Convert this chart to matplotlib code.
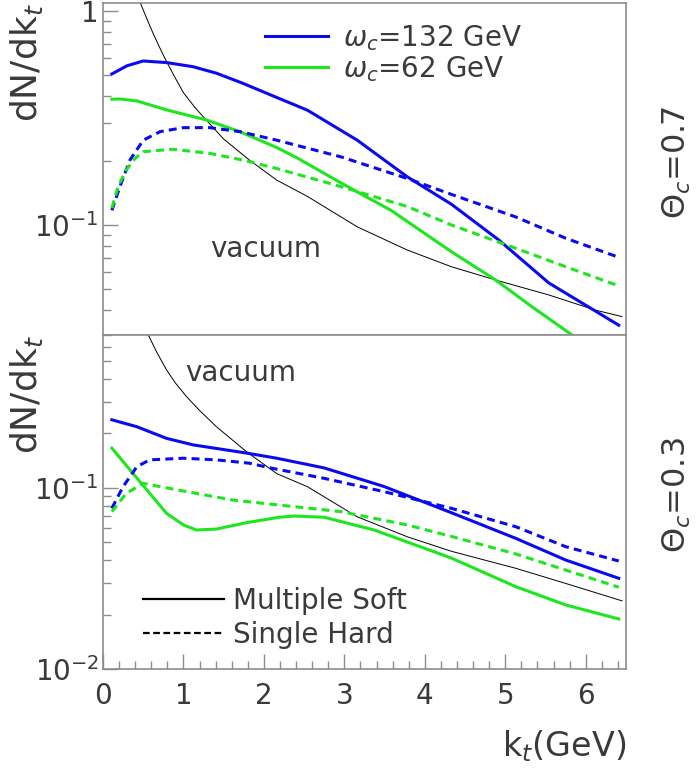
import matplotlib
matplotlib.use("Agg")
import matplotlib.pyplot as plt
import numpy as np
from matplotlib.lines import Line2D
from matplotlib.ticker import FixedLocator, FixedFormatter, NullFormatter, MultipleLocator

# ---- data: theta_c = 0.7 (top panel) ----
top_ms132_x = [0.11, 0.30, 0.50, 0.79, 1.12, 1.41, 1.74, 2.19, 2.54, 3.16, 3.78, 4.33, 4.92, 5.54, 6.10, 6.41]
top_ms132_y = [0.508, 0.555, 0.584, 0.574, 0.549, 0.512, 0.459, 0.390, 0.344, 0.249, 0.168, 0.125, 0.085, 0.0536, 0.040, 0.034]

top_sh132_x = [0.11, 0.21, 0.335, 0.50, 0.71, 1.0, 1.33, 1.70, 2.16, 2.96, 3.78, 4.33, 5.13, 5.75, 6.41]
top_sh132_y = [0.117, 0.151, 0.201, 0.249, 0.273, 0.285, 0.285, 0.273, 0.249, 0.208, 0.165, 0.139, 0.109, 0.0867, 0.0706]

top_ms62_x = [0.11, 0.21, 0.42, 0.79, 1.28, 1.70, 2.16, 2.42, 2.96, 3.58, 4.33, 4.88, 5.33, 5.83, 6.0]
top_ms62_y = [0.387, 0.388, 0.380, 0.345, 0.310, 0.273, 0.230, 0.205, 0.157, 0.117, 0.075, 0.0553, 0.0415, 0.0306, 0.027]

top_sh62_x = [0.11, 0.19, 0.29, 0.40, 0.50, 0.87, 1.33, 1.74, 2.15, 2.96, 3.78, 4.33, 5.13, 5.75, 6.41]
top_sh62_y = [0.120, 0.152, 0.181, 0.205, 0.220, 0.226, 0.216, 0.201, 0.184, 0.151, 0.122, 0.100, 0.0778, 0.0638, 0.0519]

top_vac_x = [0.40, 0.46, 0.54, 0.62, 0.70, 0.79, 0.90, 1.0, 1.14, 1.28, 1.50, 1.82, 2.16, 2.54, 3.16, 3.78, 4.33, 4.88, 5.54, 6.12, 6.45]
top_vac_y = [1.35, 1.10, 0.93, 0.79, 0.68, 0.58, 0.485, 0.415, 0.355, 0.31, 0.252, 0.201, 0.162, 0.136, 0.098, 0.0764, 0.0638, 0.0553, 0.0471, 0.040, 0.0373]

# ---- theta_c = 0.3 (bottom panel) ----
bot_ms132_x = [0.11, 0.42, 0.79, 1.12, 1.78, 2.16, 2.75, 3.49, 4.33, 5.13, 5.75, 6.41]
bot_ms132_y = [0.238, 0.218, 0.188, 0.173, 0.156, 0.146, 0.129, 0.102, 0.073, 0.0527, 0.040, 0.0317]

bot_sh132_x = [0.11, 0.25, 0.42, 0.58, 1.0, 1.41, 1.82, 2.12, 2.75, 3.49, 4.33, 5.13, 5.75, 6.41]
bot_sh132_y = [0.0772, 0.1017, 0.131, 0.143, 0.146, 0.143, 0.137, 0.128, 0.113, 0.0955, 0.0772, 0.0611, 0.0474, 0.0395]

bot_ms62_x = [0.11, 0.335, 0.58, 0.79, 1.0, 1.16, 1.41, 1.78, 2.19, 2.38, 2.75, 3.37, 4.33, 5.13, 5.75, 6.41]
bot_ms62_y = [0.166, 0.126, 0.0935, 0.0724, 0.0625, 0.0586, 0.0593, 0.0643, 0.0689, 0.070, 0.0689, 0.0586, 0.041, 0.0285, 0.0226, 0.0189]

bot_sh62_x = [0.11, 0.29, 0.50, 1.0, 1.61, 2.19, 2.96, 3.78, 4.33, 5.13, 5.75, 6.41]
bot_sh62_y = [0.074, 0.0935, 0.106, 0.0962, 0.0858, 0.0805, 0.074, 0.0625, 0.054, 0.0432, 0.0352, 0.0283]

bot_vac_x = [0.50, 0.57, 0.67, 0.79, 0.90, 1.04, 1.20, 1.41, 1.78, 2.16, 2.54, 3.16, 3.78, 4.33, 5.13, 5.75, 6.45]
bot_vac_y = [0.80, 0.69, 0.56, 0.449, 0.38, 0.319, 0.268, 0.218, 0.159, 0.120, 0.1017, 0.0693, 0.0538, 0.0447, 0.036, 0.0297, 0.0238]

xticks = [0, 1, 2, 3, 4, 5, 6]
top_yticks = [0.1, 1.0]
top_ylabels = [r'$10^{-1}$', '1']
bot_yticks = [0.01, 0.1]
bot_ylabels = [r'$10^{-2}$', r'$10^{-1}$']
legend_w = [r'$\omega_c$=132 GeV', r'$\omega_c$=62 GeV']
legend_s = ['Multiple Soft', 'Single Hard']

BLUE = '#0a0aee'
GREEN = '#1ee61e'
TXT = '#3a3a3a'
FRAME = '#8c8c8c'
FS = 20
LW = 2.2
DASH = (2.6, 1.7)

plt.rcParams['font.family'] = ['DejaVu Sans']
plt.rcParams['mathtext.fontset'] = 'dejavusans'

fig = plt.figure(figsize=(6.98, 7.71), dpi=100)
ax1 = fig.add_axes([103/698, 1-335/771, 523/698, 332/771])
ax2 = fig.add_axes([103/698, 1-669/771, 523/698, 334/771])


def style(ax, yticks, ylabels, ylim, show_x):
    ax.set_yscale('log')
    ax.set_xlim(0, 6.5)
    ax.set_ylim(*ylim)
    for s in ax.spines.values():
        s.set_color(FRAME)
        s.set_linewidth(1.2)
    ax.yaxis.set_major_locator(FixedLocator(yticks))
    ax.yaxis.set_major_formatter(FixedFormatter(ylabels))
    ax.yaxis.set_minor_formatter(NullFormatter())
    ax.tick_params(axis='y', which='major', direction='in', length=11, width=1,
                   color=FRAME, labelsize=FS, labelcolor=TXT, pad=3, right=False)
    ax.tick_params(axis='y', which='minor', direction='in', length=5.5, width=1,
                   color=FRAME, right=False)
    if show_x:
        ax.xaxis.set_major_locator(FixedLocator(xticks))
        ax.xaxis.set_minor_locator(MultipleLocator(0.2))
        ax.tick_params(axis='x', which='major', direction='in', length=11, width=1,
                       color=FRAME, labelsize=FS, labelcolor=TXT, pad=9, top=False)
        ax.tick_params(axis='x', which='minor', direction='in', length=6, width=1,
                       color=FRAME, top=False)
    else:
        ax.tick_params(axis='x', which='both', bottom=False, top=False, labelbottom=False)


style(ax1, top_yticks, top_ylabels, (0.0306, 1.09), False)
style(ax2, bot_yticks, bot_ylabels, (0.01, 0.70), True)

# top panel
ax1.plot(top_vac_x, top_vac_y, color='black', lw=0.7)
ax1.plot(top_ms132_x, top_ms132_y, color=BLUE, lw=LW)
ax1.plot(top_ms62_x, top_ms62_y, color=GREEN, lw=LW)
ax1.plot(top_sh132_x, top_sh132_y, color=BLUE, lw=LW, ls=(0, DASH))
ax1.plot(top_sh62_x, top_sh62_y, color=GREEN, lw=LW, ls=(0, DASH))

# bottom panel
ax2.plot(bot_vac_x, bot_vac_y, color='black', lw=0.7)
ax2.plot(bot_ms132_x, bot_ms132_y, color=BLUE, lw=LW)
ax2.plot(bot_ms62_x, bot_ms62_y, color=GREEN, lw=LW)
ax2.plot(bot_sh132_x, bot_sh132_y, color=BLUE, lw=LW, ls=(0, DASH))
ax2.plot(bot_sh62_x, bot_sh62_y, color=GREEN, lw=LW, ls=(0, DASH))

# legends
h1 = [Line2D([], [], color=BLUE, lw=LW), Line2D([], [], color=GREEN, lw=LW)]
leg1 = ax1.legend(h1, legend_w, loc='upper left', bbox_to_anchor=(0.31, 0.94),
                  frameon=False, fontsize=FS, handlelength=2.25, handletextpad=0.55,
                  labelspacing=0.05, borderpad=0, borderaxespad=0)
for t in leg1.get_texts():
    t.set_color(TXT)

h2 = [Line2D([], [], color='black', lw=1.6), Line2D([], [], color='black', lw=1.6, ls=(0, (3, 1.6)))]
leg2 = ax2.legend(h2, legend_s, loc='upper left', bbox_to_anchor=(0.0765, 0.245),
                  frameon=False, fontsize=FS, handlelength=2.9, handletextpad=0.35,
                  labelspacing=0.2, borderpad=0, borderaxespad=0)
for t in leg2.get_texts():
    t.set_color(TXT)

ax1.text(0.205, 0.26, 'vacuum', transform=ax1.transAxes, fontsize=FS, color=TXT,
         ha='left', va='center')
ax2.text(0.157, 0.885, 'vacuum', transform=ax2.transAxes, fontsize=FS, color=TXT,
         ha='left', va='center')

# axis titles
for ax in (ax1, ax2):
    ax.text(-0.147, 1.0, r'dN/dk$_t$', transform=ax.transAxes, rotation=90,
            fontsize=26, color=TXT, ha='center', va='top')
ax2.text(1.0, -0.23, r'k$_t$(GeV)', transform=ax2.transAxes, fontsize=24,
         color=TXT, ha='right', va='center')

fig.text(677/698, 1-162/771, r'$\Theta_c$=0.7', rotation=90, fontsize=23, color=TXT,
         ha='center', va='center')
fig.text(677/698, 1-495/771, r'$\Theta_c$=0.3', rotation=90, fontsize=23, color=TXT,
         ha='center', va='center')

fig.savefig('out.png', dpi=100)
